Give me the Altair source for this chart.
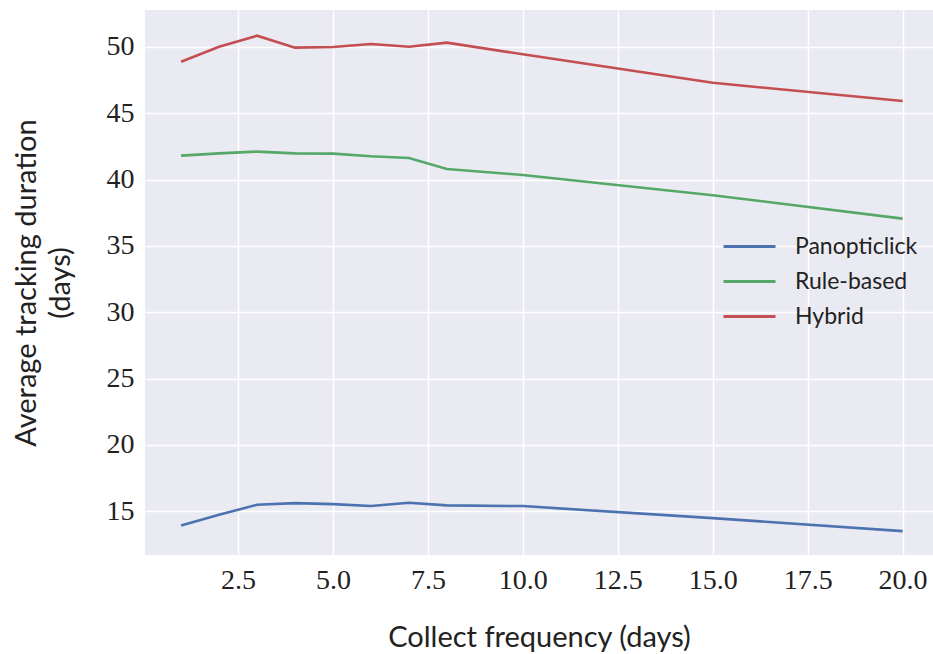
import altair as alt
import pandas as pd

# Collection intervals (days) and mean tracking duration per method
freq = [1, 2, 3, 4, 5, 6, 7, 8, 10, 15, 20]
panopticlick = [13.91, 14.72, 15.48, 15.60, 15.53, 15.38, 15.63, 15.43, 15.38, 14.47, 13.49]
rule_based = [41.81, 41.98, 42.11, 41.98, 41.96, 41.76, 41.63, 40.80, 40.35, 38.82, 37.06]
hybrid = [48.89, 50.02, 50.85, 49.95, 50.00, 50.23, 50.02, 50.33, 49.45, 47.30, 45.93]

methods = ["Panopticlick", "Rule-based", "Hybrid"]
colors = ["#4C72B0", "#55A868", "#C44E52"]

rows = []
for name, vals in zip(methods, [panopticlick, rule_based, hybrid]):
    for f, v in zip(freq, vals):
        rows.append({"freq": f, "duration": v, "method": name})
df = pd.DataFrame(rows)

tick_font = "Liberation Serif"
title_font = "Lato"

chart = (
    alt.Chart(df)
    .mark_line(strokeWidth=2.6, clip=True)
    .encode(
        x=alt.X(
            "freq:Q",
            title="Collect frequency (days)",
            scale=alt.Scale(domain=[0.05, 20.8], nice=False, zero=False),
            axis=alt.Axis(values=[2.5, 5.0, 7.5, 10.0, 12.5, 15.0, 17.5, 20.0], format=".1f"),
        ),
        y=alt.Y(
            "duration:Q",
            title=["Average tracking duration", "(days)"],
            scale=alt.Scale(domain=[11.69, 52.79], nice=False, zero=False),
            axis=alt.Axis(values=[15, 20, 25, 30, 35, 40, 45, 50]),
        ),
        color=alt.Color(
            "method:N",
            scale=alt.Scale(domain=methods, range=colors),
            sort=methods,
            legend=alt.Legend(
                title=None,
                orient="none",
                legendX=590,
                legendY=222,
                # a long horizontal stroke on a compact symbol box
                symbolType="M-2,0L2,0",
                symbolSize=676,
                symbolStrokeWidth=2.8,
                labelFont=title_font,
                labelFontSize=23,
                labelColor="#222222",
                labelOffset=31,
                rowPadding=8,
                labelLimit=300,
            ),
        ),
        detail="method:N",
    )
    .properties(
        width=788,
        height=545,
        autosize=alt.AutoSizeParams(type="none"),
        padding={"left": 145, "top": 10, "right": 0, "bottom": 99},
    )
    .configure_view(fill="#EAEAF2", stroke=None)
    .configure_axis(
        grid=True,
        gridColor="white",
        gridWidth=1.5,
        domain=False,
        ticks=False,
        labelFont=tick_font,
        labelFontSize=28,
        labelColor="#222222",
        titleFont=title_font,
        titleFontSize=29,
        titleFontWeight="normal",
        titleColor="#222222",
    )
    .configure_axisX(labelPadding=11, titlePadding=29)
    .configure_axisY(labelPadding=11, titlePadding=31, titleLineHeight=34)
)

chart.save("out.html", embed_options={"renderer": "svg", "actions": False})
